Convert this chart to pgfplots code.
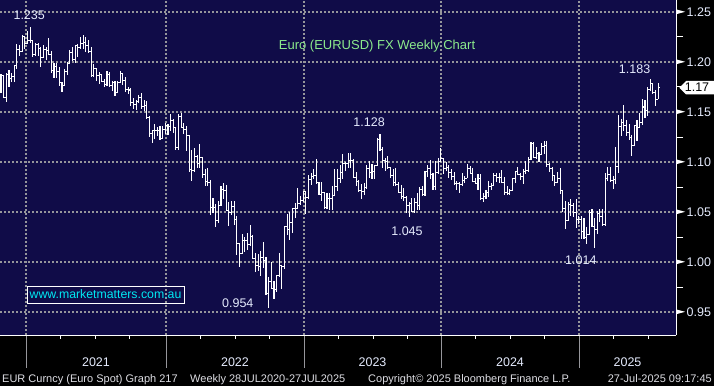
\documentclass[border=0pt]{standalone}
\usepackage{pgfplots}
\pgfplotsset{compat=1.18}
\usepackage{pgfplotstable}
\usepackage{fontspec}
\setmainfont{Liberation Sans}
\definecolor{bbnavy}{RGB}{16,12,72}
\definecolor{bbgrid}{RGB}{150,150,155}
\definecolor{bbtitle}{RGB}{140,235,140}
\definecolor{bbtext}{RGB}{228,234,252}
\definecolor{bbfoot}{RGB}{222,222,228}
\definecolor{bbcyan}{RGB}{0,232,242}
\pgfdeclareplotmark{ltick}{\pgfpathmoveto{\pgfqpoint{-1.6pt}{0pt}}\pgfpathlineto{\pgfqpoint{0pt}{0pt}}\pgfusepathqstroke}
\pgfdeclareplotmark{rtick}{\pgfpathmoveto{\pgfqpoint{0pt}{0pt}}\pgfpathlineto{\pgfqpoint{1.6pt}{0pt}}\pgfusepathqstroke}
\pgfplotstableread{
i O H L C
0 1.1815 1.1881 1.1689 1.1860
1 1.1860 1.1870 1.1640 1.1647
2 1.1647 1.1891 1.1603 1.1876
3 1.1876 1.1920 1.1746 1.1833
4 1.1833 1.1891 1.1800 1.1857
5 1.1857 1.1964 1.1800 1.1963
6 1.1963 1.2177 1.1925 1.2122
7 1.2122 1.2167 1.2059 1.2108
8 1.2108 1.2273 1.2100 1.2255
9 1.2250 1.2260 1.2130 1.2186
10 1.2186 1.2310 1.2180 1.2216
11 1.2216 1.2349 1.2192 1.2219
12 1.2219 1.2223 1.2054 1.2078
13 1.2078 1.2190 1.2060 1.2170
14 1.2170 1.2190 1.2057 1.2136
15 1.2136 1.2150 1.1952 1.2045
16 1.2045 1.2169 1.2040 1.2120
17 1.2120 1.2145 1.2023 1.2118
18 1.2118 1.2243 1.2071 1.2075
19 1.2075 1.2113 1.1894 1.1915
20 1.1915 1.1990 1.1836 1.1952
21 1.1952 1.1989 1.1837 1.1905
22 1.1905 1.1945 1.1762 1.1795
23 1.1795 1.1799 1.1704 1.1762
24 1.1762 1.1927 1.1760 1.1900
25 1.1900 1.1995 1.1869 1.1983
26 1.1983 1.2116 1.1975 1.2097
27 1.2097 1.2150 1.2018 1.2020
28 1.2020 1.2172 1.1986 1.2164
29 1.2164 1.2182 1.2051 1.2142
30 1.2142 1.2245 1.2128 1.2180
31 1.2180 1.2265 1.2125 1.2194
32 1.2194 1.2254 1.2104 1.2167
33 1.2167 1.2218 1.2093 1.2107
34 1.2107 1.2145 1.1847 1.1864
35 1.1864 1.1975 1.1848 1.1936
36 1.1936 1.1937 1.1807 1.1865
37 1.1865 1.1895 1.1782 1.1876
38 1.1876 1.1880 1.1795 1.1807
39 1.1807 1.1832 1.1752 1.1771
40 1.1771 1.1909 1.1756 1.1870
41 1.1870 1.1900 1.1760 1.1761
42 1.1761 1.1807 1.1706 1.1795
43 1.1795 1.1805 1.1664 1.1699
44 1.1699 1.1810 1.1700 1.1795
45 1.1795 1.1909 1.1790 1.1880
46 1.1880 1.1883 1.1772 1.1813
47 1.1813 1.1846 1.1700 1.1726
48 1.1726 1.1750 1.1683 1.1720
49 1.1716 1.1740 1.1563 1.1596
50 1.1596 1.1640 1.1529 1.1570
51 1.1570 1.1624 1.1524 1.1602
52 1.1602 1.1669 1.1585 1.1645
53 1.1645 1.1692 1.1535 1.1558
54 1.1558 1.1616 1.1513 1.1567
55 1.1567 1.1608 1.1433 1.1445
56 1.1445 1.1464 1.1249 1.1290
57 1.1290 1.1325 1.1186 1.1318
58 1.1318 1.1383 1.1235 1.1316
59 1.1316 1.1355 1.1262 1.1316
60 1.1316 1.1360 1.1222 1.1238
61 1.1238 1.1360 1.1235 1.1323
62 1.1323 1.1386 1.1278 1.1370
63 1.1370 1.1377 1.1272 1.1359
64 1.1359 1.1483 1.1313 1.1412
65 1.1412 1.1435 1.1290 1.1344
66 1.1344 1.1348 1.1121 1.1146
67 1.1146 1.1484 1.1120 1.1453
68 1.1453 1.1495 1.1343 1.1349
69 1.1349 1.1395 1.1280 1.1322
70 1.1322 1.1358 1.1106 1.1270
71 1.1270 1.1270 1.0900 1.0929
72 1.0929 1.1121 1.0806 1.0912
73 1.0912 1.1137 1.0900 1.1051
74 1.1051 1.1070 1.0945 1.0983
75 1.0983 1.1185 1.0945 1.1045
76 1.1045 1.1054 1.0837 1.0876
77 1.0876 1.0935 1.0757 1.0808
78 1.0808 1.0936 1.0762 1.0795
79 1.0795 1.0820 1.0472 1.0545
80 1.0545 1.0642 1.0492 1.0550
81 1.0550 1.0578 1.0350 1.0412
82 1.0412 1.0606 1.0390 1.0562
83 1.0562 1.0765 1.0560 1.0730
84 1.0730 1.0787 1.0628 1.0718
85 1.0718 1.0774 1.0507 1.0518
86 1.0518 1.0601 1.0359 1.0496
87 1.0496 1.0614 1.0470 1.0553
88 1.0553 1.0615 1.0366 1.0425
89 1.0425 1.0464 1.0072 1.0182
90 1.0182 1.0185 0.9952 1.0081
91 1.0081 1.0279 1.0080 1.0212
92 1.0212 1.0254 1.0097 1.0220
93 1.0220 1.0294 1.0123 1.0180
94 1.0180 1.0368 1.0160 1.0260
95 1.0260 1.0275 1.0032 1.0037
96 1.0037 1.0090 0.9900 0.9966
97 0.9966 1.0079 0.9910 0.9954
98 0.9954 1.0113 0.9864 1.0042
99 1.0042 1.0198 0.9945 1.0016
100 1.0016 1.0050 0.9670 0.9690
101 0.9690 0.9853 0.9536 0.9802
102 0.9802 0.9999 0.9730 0.9740
103 0.9740 0.9808 0.9632 0.9722
104 0.9722 0.9875 0.9705 0.9862
105 0.9862 1.0094 0.9850 0.9966
106 0.9966 0.9975 0.9730 0.9960
107 0.9960 1.0362 0.9935 1.0354
108 1.0354 1.0481 1.0270 1.0323
109 1.0323 1.0497 1.0222 1.0397
110 1.0397 1.0545 1.0290 1.0536
111 1.0536 1.0595 1.0443 1.0540
112 1.0540 1.0737 1.0530 1.0586
113 1.0586 1.0659 1.0575 1.0620
114 1.0620 1.0714 1.0600 1.0705
115 1.0705 1.0713 1.0483 1.0645
116 1.0645 1.0868 1.0634 1.0830
117 1.0830 1.0887 1.0766 1.0855
118 1.0855 1.0929 1.0835 1.0870
119 1.0870 1.1033 1.0790 1.0795
120 1.0795 1.0796 1.0670 1.0677
121 1.0677 1.0805 1.0613 1.0695
122 1.0695 1.0705 1.0533 1.0548
123 1.0548 1.0692 1.0535 1.0635
124 1.0635 1.0695 1.0524 1.0640
125 1.0640 1.0760 1.0516 1.0670
126 1.0670 1.0930 1.0660 1.0760
127 1.0760 1.0926 1.0713 1.0840
128 1.0840 1.0973 1.0788 1.0900
129 1.0900 1.1076 1.0830 1.0990
130 1.0990 1.1000 1.0910 1.0990
131 1.0990 1.1095 1.0945 1.1020
132 1.1020 1.1092 1.0942 1.1020
133 1.1020 1.1030 1.0840 1.0850
134 1.0850 1.0904 1.0760 1.0805
135 1.0805 1.0820 1.0702 1.0720
136 1.0720 1.0779 1.0635 1.0710
137 1.0710 1.0787 1.0667 1.0750
138 1.0750 1.0971 1.0732 1.0940
139 1.0940 1.1012 1.0844 1.0895
140 1.0895 1.0976 1.0835 1.0910
141 1.0910 1.0970 1.0833 1.0970
142 1.0970 1.1245 1.0960 1.1230
143 1.1230 1.1276 1.1115 1.1125
144 1.1125 1.1149 1.0945 1.1015
145 1.1015 1.1042 1.0912 1.1005
146 1.1005 1.1065 1.0930 1.0950
147 1.0950 1.0955 1.0845 1.0870
148 1.0870 1.0930 1.0765 1.0795
149 1.0795 1.0945 1.0770 1.0775
150 1.0775 1.0800 1.0686 1.0700
151 1.0700 1.0770 1.0632 1.0660
152 1.0660 1.0737 1.0615 1.0650
153 1.0650 1.0660 1.0488 1.0570
154 1.0570 1.0600 1.0448 1.0590
155 1.0590 1.0640 1.0496 1.0510
156 1.0510 1.0640 1.0495 1.0595
157 1.0595 1.0695 1.0522 1.0565
158 1.0565 1.0755 1.0517 1.0730
159 1.0730 1.0765 1.0656 1.0680
160 1.0680 1.0913 1.0660 1.0910
161 1.0910 1.0966 1.0850 1.0940
162 1.0940 1.1017 1.0830 1.0880
163 1.0880 1.0890 1.0724 1.0760
164 1.0760 1.1009 1.0723 1.0900
165 1.0900 1.1040 1.0880 1.1010
166 1.1010 1.1140 1.1000 1.1040
167 1.1040 1.1045 1.0877 1.0940
168 1.0940 1.0998 1.0908 1.0950
169 1.0950 1.0968 1.0844 1.0895
170 1.0895 1.0932 1.0821 1.0855
171 1.0855 1.0897 1.0776 1.0785
172 1.0785 1.0809 1.0722 1.0785
173 1.0785 1.0805 1.0695 1.0775
174 1.0775 1.0888 1.0761 1.0820
175 1.0820 1.0865 1.0795 1.0840
176 1.0840 1.0981 1.0840 1.0940
177 1.0940 1.0964 1.0880 1.0890
178 1.0890 1.0942 1.0802 1.0810
179 1.0810 1.0842 1.0776 1.0790
180 1.0790 1.0876 1.0724 1.0835
181 1.0835 1.0885 1.0622 1.0640
182 1.0640 1.0690 1.0601 1.0655
183 1.0655 1.0725 1.0630 1.0695
184 1.0695 1.0812 1.0650 1.0760
185 1.0760 1.0790 1.0723 1.0770
186 1.0770 1.0895 1.0765 1.0870
187 1.0870 1.0889 1.0805 1.0845
188 1.0845 1.0889 1.0788 1.0850
189 1.0850 1.0916 1.0797 1.0800
190 1.0800 1.0852 1.0668 1.0700
191 1.0700 1.0761 1.0672 1.0690
192 1.0690 1.0732 1.0666 1.0715
193 1.0715 1.0845 1.0710 1.0840
194 1.0840 1.0907 1.0790 1.0905
195 1.0905 1.0948 1.0873 1.0880
196 1.0880 1.0887 1.0825 1.0855
197 1.0855 1.0926 1.0777 1.0910
198 1.0910 1.1008 1.0880 1.0915
199 1.0915 1.1047 1.0904 1.1025
200 1.1025 1.1200 1.1020 1.1190
201 1.1190 1.1202 1.1040 1.1050
202 1.1050 1.1155 1.1026 1.1085
203 1.1085 1.1100 1.1000 1.1075
204 1.1075 1.1189 1.1068 1.1160
205 1.1160 1.1214 1.1082 1.1165
206 1.1165 1.1210 1.0950 1.0975
207 1.0975 1.0990 1.0905 1.0935
208 1.0935 1.0946 1.0811 1.0865
209 1.0865 1.0870 1.0761 1.0795
210 1.0795 1.0905 1.0790 1.0835
211 1.0835 1.0937 1.0683 1.0720
212 1.0720 1.0725 1.0496 1.0540
213 1.0540 1.0610 1.0332 1.0415
214 1.0415 1.0597 1.0410 1.0575
215 1.0575 1.0630 1.0460 1.0570
216 1.0570 1.0594 1.0450 1.0500
217 1.0500 1.0630 1.0343 1.0430
218 1.0430 1.0456 1.0380 1.0425
219 1.0425 1.0458 1.0226 1.0310
220 1.0310 1.0437 1.0240 1.0245
221 1.0245 1.0353 1.0177 1.0275
222 1.0275 1.0520 1.0266 1.0495
223 1.0495 1.0533 1.0357 1.0360
224 1.0360 1.0442 1.0141 1.0325
225 1.0325 1.0513 1.0285 1.0490
226 1.0490 1.0528 1.0400 1.0460
227 1.0460 1.0530 1.0359 1.0375
228 1.0375 1.0888 1.0360 1.0835
229 1.0835 1.0947 1.0808 1.0880
230 1.0880 1.0955 1.0797 1.0815
231 1.0815 1.0860 1.0733 1.0830
232 1.0830 1.1146 1.0778 1.0960
233 1.0960 1.1473 1.0889 1.1360
234 1.1360 1.1426 1.1260 1.1395
235 1.1395 1.1573 1.1315 1.1365
236 1.1365 1.1425 1.1265 1.1295
237 1.1295 1.1380 1.1218 1.1250
238 1.1250 1.1266 1.1065 1.1165
239 1.1165 1.1375 1.1160 1.1365
240 1.1365 1.1419 1.1210 1.1345
241 1.1345 1.1495 1.1340 1.1395
242 1.1395 1.1631 1.1373 1.1550
243 1.1550 1.1615 1.1445 1.1520
244 1.1520 1.1745 1.1460 1.1720
245 1.1720 1.1830 1.1710 1.1780
246 1.1780 1.1790 1.1680 1.1690
247 1.1690 1.1720 1.1556 1.1625
248 1.1625 1.1788 1.1625 1.1740
}\eur
\begin{document}
\begin{tikzpicture}
\useasboundingbox (0,-51pt) rectangle (714pt,335pt);
\fill[black] (0,-51pt) rectangle (714pt,335pt);
\begin{axis}[
  at={(0,0)}, anchor=south west,
  scale only axis, width=676pt, height=335pt,
  xmin=-0.3774, xmax=254.717, ymin=0.927, ymax=1.262,
  axis background/.style={fill=bbnavy},
  axis x line*=bottom, axis y line*=right,
  axis line style={-, white, line width=1pt},
  clip=false,
  /pgf/number format/assume math mode=true,
  xtick={9.434,62.264,114.340,166.038,218.113},
  xticklabels={,,,,},
  minor xtick={22.453,35.472,48.491,75.283,88.302,101.321,127.358,140.377,153.396,179.057,192.075,205.094,231.132,244.151},
  extra x ticks={35.849,88.302,140.189,192.075,236.415},
  extra x tick labels={2021,2022,2023,2024,2025},
  extra x tick style={grid=none, major tick length=0pt, major x tick style={draw=none},
    xticklabel style={anchor=base, inner sep=0pt, yshift=-31pt, text=bbtext, font=\fontsize{12.5}{14}\selectfont}},
  xtick align=outside,
  major tick length=33pt, minor tick length=3.5pt,
  major x tick style={bbgrid, line width=1pt, solid},
  minor x tick style={white, line width=1pt},
  ytick={0.95,1,1.05,1.1,1.15,1.2,1.25},
  ytick align=inside,
  major y tick style={draw=none},
  yticklabel style={anchor=west, inner sep=0pt, text=bbtext, font=\fontsize{12.5}{14}\selectfont},
  yticklabel={\tikz[baseline=-0.36em]\fill[white] (0,2.4pt)--(9pt,0pt)--(0,-2.4pt)--cycle;\hspace{1.5pt}\pgfmathprintnumber[fixed,fixed zerofill,precision=2]{\tick}},
  extra y ticks={0.975,1.025,1.075,1.125,1.175,1.225},
  extra y tick labels={},
  extra y tick style={grid=none, major tick length=7pt, tick align=outside, major y tick style={draw=white, line width=1pt}},
  xmajorgrids, ymajorgrids,
  major grid style={bbgrid, line width=1.2pt, dash pattern=on 1.6pt off 2.4pt},
]
\addplot[only marks, mark=rtick, mark options={white, line width=1pt},
  error bars/.cd, y dir=both, y explicit, error mark=none,
  error bar style={white, line width=1.1pt}]
  table[x=i, y=C, y error plus expr=\thisrow{H}-\thisrow{C}, y error minus expr=\thisrow{C}-\thisrow{L}] {\eur};
\addplot[only marks, mark=ltick, mark options={white, line width=1pt}] table[x=i, y=O] {\eur};
\begin{scope}[every node/.style={inner sep=0pt, anchor=base, text=bbtext, font=\fontsize{12.5}{14}\selectfont}]
\node at (axis cs:10.64,1.242) {1.235};
\node at (axis cs:239.1,1.188) {1.183};
\node at (axis cs:138.9,1.136) {1.128};
\node at (axis cs:153.2,1.027) {1.045};
\node at (axis cs:218.8,0.998) {1.014};
\node at (axis cs:89.36,0.9547) {0.954};
\end{scope}
\node[inner sep=0pt, anchor=base, text=bbtitle, font=\fontsize{13}{15}\selectfont] at (axis cs:141.9,1.2127) {Euro (EURUSD) FX Weekly Chart};
\node[draw=white, line width=0.8pt, text=bbcyan, font=\fontsize{12.3}{14}\selectfont, minimum width=157pt, minimum height=17pt, inner sep=0pt] at (axis cs:39.43,0.9675) {www.marketmatters.com.au};
\end{axis}
\fill[white] (679.3pt,247.3pt) -- (686pt,254pt) -- (714pt,254pt) -- (714pt,240.7pt) -- (686pt,240.7pt) -- cycle;
\node[inner sep=0pt, text=black, font=\fontsize{12.5}{14}\selectfont] at (697pt,247.3pt) {1.17};
\begin{scope}[every node/.style={inner sep=0pt, text=bbfoot, font=\fontsize{11}{13}\selectfont}]
\node[anchor=base west] at (2pt,-47.7pt) {EUR Curncy (Euro Spot) Graph 217};
\node[anchor=base west] at (190pt,-47.7pt) {Weekly 28JUL2020-27JUL2025};
\node[anchor=base west] at (368pt,-47.7pt) {Copyright© 2025 Bloomberg Finance L.P.};
\node[anchor=base east] at (712pt,-47.7pt) {27-Jul-2025 09:17:45};
\end{scope}
\end{tikzpicture}
\end{document}
